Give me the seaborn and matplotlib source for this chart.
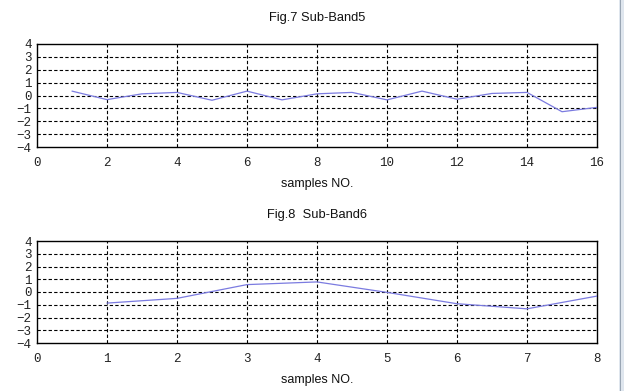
import matplotlib
matplotlib.use("Agg")
import matplotlib.pyplot as plt
import seaborn as sns
import pandas as pd
from matplotlib.patches import Rectangle

sns.set_theme(style="white")
plt.rcParams['font.family'] = ['Liberation Sans', 'DejaVu Sans']
plt.rcParams['axes.unicode_minus'] = True

# Data
band5_samples = list(range(1, 17))
band5_values = [0.34, -0.32, 0.13, 0.24, -0.37, 0.34, -0.34, 0.13,
                0.24, -0.34, 0.34, -0.29, 0.16, 0.24, -1.26, -0.92]
band6_samples = list(range(1, 9))
band6_values = [-0.87, -0.50, 0.58, 0.79, -0.03, -0.92, -1.32, -0.32]

title_top = "Fig.7 Sub-Band5"
title_bottom = "Fig.8  Sub-Band6"
xlabel = "samples NO."
yticks = [-4, -3, -2, -1, 0, 1, 2, 3, 4]
xticks_top = [0, 2, 4, 6, 8, 10, 12, 14, 16]
xticks_bottom = [0, 1, 2, 3, 4, 5, 6, 7, 8]

line_color = "#7b7be0"

fig = plt.figure(figsize=(6.24, 3.91), dpi=100)
ax1 = fig.add_axes([37/624, 1 - 147/391, 560/624, 103/391])
ax2 = fig.add_axes([37/624, 1 - 343/391, 560/624, 102/391])

df5 = pd.DataFrame({"x": band5_samples, "y": band5_values})
df6 = pd.DataFrame({"x": band6_samples, "y": band6_values})

for ax, df, xt, title, ttl_y in [(ax1, df5, xticks_top, title_top, 18),
                                  (ax2, df6, xticks_bottom, title_bottom, 215)]:
    ax.set_facecolor("white")
    ax.set_xlim(xt[0], xt[-1])
    ax.set_ylim(-4, 4)
    ax.set_xticks(xt)
    ax.set_yticks(yticks)
    ax.set_xticklabels([str(v) for v in xt], family=['Liberation Mono', 'DejaVu Sans Mono'], fontsize=9)
    ax.set_yticklabels([("\u2212" + str(-v)) if v < 0 else str(v) for v in yticks],
                       family=['Liberation Mono', 'DejaVu Sans Mono'], fontsize=9)
    ax.tick_params(axis='both', length=0, colors="#222222")
    ax.tick_params(axis='x', pad=7)
    ax.tick_params(axis='y', pad=4)
    for v in yticks[1:-1]:
        ax.axhline(v, color="black", lw=0.8, ls=(0, (3, 2)), zorder=1)
    for v in xt[1:-1]:
        ax.axvline(v, color="black", lw=0.8, ls=(0, (3, 2)), zorder=1)
    for s in ax.spines.values():
        s.set_visible(True)
        s.set_color("black")
        s.set_linewidth(1.0)
    sns.lineplot(data=df, x="x", y="y", ax=ax, color=line_color, lw=0.9, zorder=3)
    ax.set_xlabel(xlabel, fontsize=9, labelpad=7, color="#111111")
    ax.set_ylabel("")
    fig.text(317/624, 1 - ttl_y/391, title, ha="center", va="center", fontsize=9.3, color="#111111")

# right-side window strip
fig.patches.append(Rectangle((619/624, 0), 5/624, 1, transform=fig.transFigure,
                             facecolor="#dfe6ee", edgecolor="none", zorder=0))
fig.patches.append(Rectangle((620/624, 0), 0.8/624, 1, transform=fig.transFigure,
                             facecolor="#9aa6b4", edgecolor="none", zorder=1))

fig.savefig("out.png", dpi=100)
